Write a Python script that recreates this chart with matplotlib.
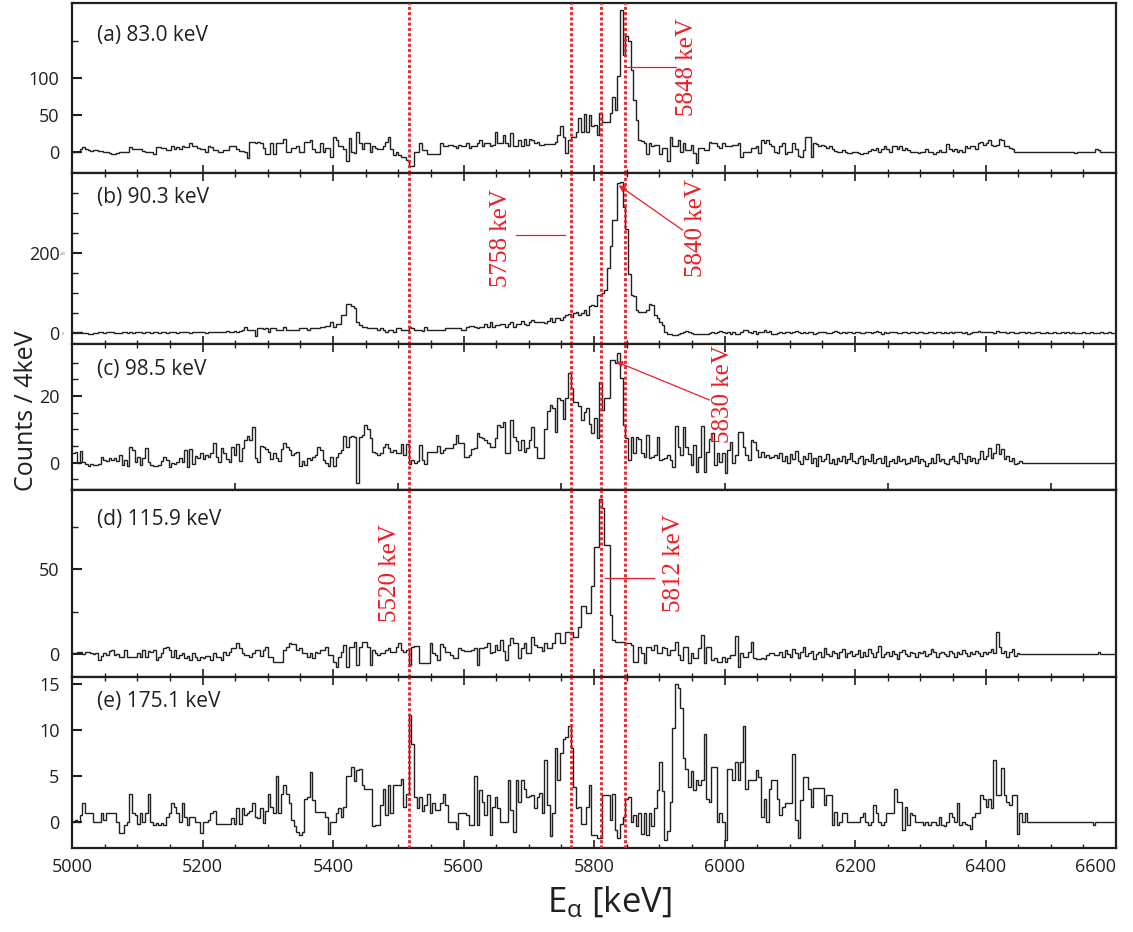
import numpy as np
import matplotlib
matplotlib.use('Agg')
import matplotlib.pyplot as plt
from matplotlib.ticker import MultipleLocator, FixedLocator, NullLocator

plt.rcParams['font.family'] = ['Open Sans', 'DejaVu Sans']
plt.rcParams['mathtext.fontset'] = 'custom'
plt.rcParams['mathtext.rm'] = 'Open Sans'
plt.rcParams['mathtext.it'] = 'Open Sans'

# ---------------- data ----------------
E_MIN, E_MAX, BIN = 5000, 6600, 4

counts_a = [
    0, 0, 0, 4, 6, 3, 2, 1, 2, 2, 1, 1, 0, 0, -2, -3, -3, -2, 0, 0, 0, 0, 6, 4, 4,
    4, 4, 1, 0, 0, -1, -3, 6, 6, 5, 5, 2, 2, 7, 4, 6, 3, 8, 6, 6, 12, 7, 7, 5, 4,
    3, 0, 7, 6, 2, 2, 0, 0, 2, 2, 7, 7, 7, 3, 1, 1, 0, -9, 13, 13, 12, 13, 12, 4.5, -3,
    -3, 11, -3, 12, 11, 12, 17, 0, -1, 4.5, 4.5, 7, 0, 0, 13, 13, 16, 3, 0, 0, 11, -1, 4.5, 4.5, -8,
    20, 16, 7, 7, 3, -13, 18, 0, -2, 26, 11, 3, 11, 11, 0, 7, 4.5, 3, 3, 7, 13, 20, 3, -4.5, 0,
    -4.5, -7, -7, -12, -19, -19, 0, 0, 12, 2, 2, -3, -3, -3, -3, -3, 11, 7, 7, 9, 9, 7, 4.5, 9, 7,
    7, 11, 4.5, 7, 7, 11, 16, 7, 12, 12, 7, 9, 27, 11, 11, 22, 11, 7, 25, 7, 7, 16, 7, 17, 9,
    17, 16, 11, 13.5, 9, 9, 10, 10, 10, 10, 13.5, 22, 35, 20, -1.4, 16, 20, 20, 27, 45, 27, 51, 27, 50, 34,
    36, 22, 52, 40, 40, 40, 52, 74, 56, 102, 191, 131, 156, 150, 110, 70, 43, 16, 14, 11, -3, 11, 7, 9, 9,
    -3, 4.5, 4.5, -13, 20, 7, 7, 16, 0, 11, 2, 2, 9, -2, -16, 4.5, 4.5, 2, 2, 13.5, 11, 11, 7, 4.5, 11,
    7, 7, 8, 9, 9, 12, -7, 0, 0, 0, 4.5, 4.5, 7, -2, 16, 11, 16, 10, 7.7, 0, -2, 7, 11, -3, 0,
    0, 11, 3, -6, -7, 2, 20, 20, -7, 11, 10, 7, 9, 7, 4.5, 7, 3, 1, 0, 0, 2, 0, -2, -2, 0,
    -1, -2, -3, -2, -2, 1, 3, 2, 4.5, 0, 3, 7, 3, 0, 7, 7.7, 3, 7.7, 2, 4.5, 2, -1, 0, 0, -2,
    -1, 0, 3, 0, -1, -3, 0, 2, 0, 0, 10, 3, 1, 3, 0, 2, 0, 7, 4.5, 7.7, 7.7, 3, 11, 13.5, 9,
    11, 16, 9, 7, 9, 17, 16, 7, 7, 4.5, 3, 0, -1, 0, -1, -1, 0, 0, 0, 0, 0, 0, 0, 0, 0,
    0, 0, 0, 0, 0, 0, -1, 0, 0, -2, 0, 0, 0, 0, 0, 0, 0, 3, 2, 0, 0, 0, 0, 0, 0,
]

counts_b = [
    1, 0, 2, 1, -1, 0, -2, -2, 0, 0, 1, 1, 0, 1, 2, 1, 0, -1, 0, 2, 1, 0, 1, 0, 2,
    1, 2, 0, 3, 1, 0, 2, 3, 0, 1, 3, 0, 2, 1, 1, 0, 2, 3, 1, 2, 0, 1, 2, 3, 1,
    2, 0, 3, 2, 1, 3, 2, 1, 3, 4, 2, 3, 5, 3, 4, 6, 15, 7, 7, 6, -7, 11, 11, 10, 11,
    3, 11, 11, 8, 8, 8, 15, 8, 7, 8, 8, 8, 13, 13, 13, 7, 11, 13, 13, 13, 15, 15, 17, 17, 27,
    15, 22, 22, 44, 44, 71, 71, 68, 63, 27, 19, 15, 15, 13, 13, 13, 13, 7, 11, 8, 2.5, 7, 7, 2.5, 11,
    11, 8, 8, 8, 15, 11, 8, 8, 8, 5, 15, 7, 8, 8, 8, 8, 8, 8, 11, 11, 11, 11, 11, 11, 8,
    8, 15, 17, 17, 15, 11, 15, 15, 23, 15, 27, 15, 19, 19, 23, 22, 15, 23, 27, 15, 23, 22, 30, 23, 19,
    27, 31, 27, 27, 27, 27, 25, 30, 36, 27, 36, 36, 33, 40, 44, 48, 40, 50, 52, 44, 50, 57, 44, 67, 69,
    67, 94, 94, 100, 108, 163, 217, 283, 283, 375, 377, 315, 261, 148, 94, 92, 57, 52, 52, 52, 57, 72, 69, 44, 36,
    27, 19, 2.5, -2, -3, -6, -6, -3, 0, 2.5, 5, 2.5, 0, -3, -2, -2, -2, -2, -2, 0, 2.5, 0, 2.5, 4, 2.5,
    0, 2.5, -2, 2.5, -2, -2, 2.5, 8, 7, 2.5, 0, 5, -2, 2.5, 2.5, 7, 2.5, 5, -2, -3, 0, 2, -1, 1, 3,
    0, 2, 4, 1, -1, 2, 0, 3, 1, -2, 0, 2, 1, 3, 0, -1, 2, 4, 1, 0, 2, -1, 1, 3, 0,
    1, 2, -1, 0, 3, 1, 0, 2, 4, 1, -2, 1, 0, 2, 1, 3, 0, -1, 1, 2, 0, 3, 1, 0, 2,
    1, -1, 0, 2, 1, 0, 3, 2, 0, 1, -1, 2, 0, 1, 3, 1, 0, 2, -2, 0, 1, 2, 4, 2, 1,
    3, 1, 2, 0, 4, 2, 1, 3, 0, 2, 1, -1, 0, 2, 1, 0, 1, -1, 0, 1, 2, 0, -1, 1, 0,
    0, 1, 0, -1, 1, 0, 2, 0, 1, 0, -1, 0, 1, 0, 0, 1, 0, -1, 0, 1, 0, 0, 1, 0, 0,
]

counts_c = [
    3, 3.3, 0, 3.4, 0.3, -0.4, -1, -0.4, -0.7, -0.7, -0.4, 1.8, 0.8, 0.6, 1.3, 0.8, 1.3, 0.6, 2.3, -0.7, 0.8, -1, 4.6, 3.8, 0.3,
    1.8, -0.7, 1.3, 4.3, 0.3, -0.7, -1, -1, -0.7, 0.6, 1.8, 0.8, -1.2, -0.2, -0.4, 0.3, 1.3, 0.3, 3.8, -1.2, 4, -0.4, 2, 1.3, 2.8,
    1, 2.3, 1.6, 2.8, 6, 1.8, 0.3, 4.3, 2.8, 1, 0.3, 4.8, 2.3, 5.6, 0.6, 4.3, 6.8, 8, 6.8, 10.6, 1.3, 0.3, 5, 4.8, 4.2,
    3.3, 1, 2.8, 1.3, 0.6, 4, 5.8, 4.8, 3.8, 2.3, 2.8, 3.3, -1, 0.6, -0.7, 1.3, 0.8, 1.6, 2.3, 4.8, 3.8, 0.8, -0.2, -1, 1.8,
    -1, 1.8, 2.8, 3.8, 8, 4.8, 7.8, 8, 7.8, -6, 7.8, 8.3, 11.3, 10, 7.3, 3.3, 2.8, 2.3, 2.8, 4.8, 5.6, 4.3, 3.3, 3.8, 3,
    2.8, 5.6, 2.3, 5.6, -0.4, 0.8, 0, 0.6, 5.3, 0.8, -0.4, 3.3, 3.3, 3.3, 3.3, 5, 2.8, 3.8, 4.3, 4.3, 4.3, 5.6, 8.3, 5.8, 5.8,
    1.8, 1.8, 2.3, 4, 4.3, 9, 7.8, 7.3, 6.8, 5.8, 4.8, 4.8, 7.3, 11.3, 10.6, 12.3, 2.8, 2.8, 12.8, 7.8, 6.6, 3.8, 6.8, 3.3, 4.3,
    6.8, 10.8, 4.6, 1.3, 1.3, 1.3, 10, 15.6, 17.3, 16.3, 9.3, 19.3, 18.8, 13, 19.3, 26.8, 22.3, 18.3, 18.3, 17, 12.8, 15.3, 16.3, 11.6, 8.8,
    13.3, 7.3, 24.3, 15.8, 19.3, 19.3, 30.8, 30.8, 29.8, 32.8, 25.3, 11.3, 7.3, 0.8, 7.8, 2.8, 7.8, 7, 2.8, 1.8, 8.3, 1.3, 1.8, 2.3, 7.8,
    0.8, 1, 1.3, 2.3, 0.8, -1.2, 11, 4.8, 2.3, 10.6, 4.8, 2.6, -0.7, 5.3, -2.7, 1.8, 11, -2.7, 3.3, 7, 9, -0.7, 2.8, 0.3, 2.8,
    -3.2, 3.8, 6.3, -0.2, 2.3, 9.3, 9.3, 4.8, 2.3, 0.8, 6.8, 6.3, 3.8, 1.8, 3.3, 1.8, 2.3, 1.3, 1.8, 2.3, 1.5, 3, 0.5, 2, 0,
    2.5, 1, 3.5, 0.5, -0.5, 2, 1, 3, 0, 1.5, -1, 2, 0.5, 1, 2.5, 0, 1, -0.5, 1.5, 0.5, 2, 0, 1, 3, 0.5,
    0, 1.5, 2, -0.5, 1, 0.5, 2.5, 0, 1, 1.5, 0, 2, -1, 0.5, 1, 0, 2, 0.5, 1, -0.5, 0, 1.5, 0.5, 2, 0,
    1, 0.5, -1, 0, 1.5, 0, 2.5, 0.5, 1, 0, -0.5, 1, 2, 0.5, 0, 3, 1, 0, 2, 0.5, 1.5, 0, 1, 3.5, 1,
    2, 4.5, 1.5, 3, 5.5, 2.5, 4, 1, 2, 0.5, 1.5, -0.5, 0, 0.5, 0, 0, 0, 0, 0, 0, 0, 0, 0, 0, 0,
    0, 0, 0, 0, 0, 0, 0, 0, 0, 0, 0, 0, 0, 0, 0, 0, 0, 0, 0, 0, 0, 0, 0, 0, 0,
]

counts_d = [
    0.4, 0.4, 1.4, 1.4, 0, 1.4, 1.4, 0.4, -0.2, 0.8, -3.5, -1.2, 0.4, -0.6, 2, 2.4, -0.6, 0, -1.6, -1.6, 2.4, -1.6, -1.6, -1.6, -1.6,
    0.8, -1.6, 2.4, -1.6, 2, 1.4, 2.4, -3.5, -1.6, 0.4, 3.3, 4.3, 2.4, -1.6, 2.4, -2.5, -0.6, 0.4, -2.5, -1.2, -3.5, 0.4, -1.6, -3.5, -1.6,
    -2.5, -1.2, -1.2, -3.5, 0.4, -1.6, -1.6, -3.5, 1.4, -0.6, 1.4, 3.3, 3.3, 6.3, 3.3, 0.4, -0.6, -0.6, -1.6, 0.4, 2.4, 2.4, -1.2, 2.4, 4.3,
    -1.6, -1.6, -4.5, -4.5, -4.5, -4.5, 2.4, 4.3, 6.3, 5.9, 5.9, 2.4, 3.3, 0.4, 0.4, -1.6, 0.4, -2.5, 1.4, 0.4, 2.4, 2.4, 4.3, -0.6, -0.6,
    -4.5, -7.5, -1.6, 1, 5.3, -7.5, 4.3, 4.3, 7.3, -6.5, 4.3, 7.3, 7.3, 4.3, -6.5, 2.4, 0.4, -0.6, 0.4, 0.4, 2.4, 3.3, 1.4, 1.4, 4.3,
    6.3, 2.4, 1.4, 2.4, -6.5, 4.3, 4.5, 4.7, -5.5, -5.5, -5.5, -5.5, 6.3, 0.4, -0.5, -3.5, 5.9, 4.3, 1.4, 1.4, -0.6, -2.5, -2.5, 3.3, 2.4,
    2, 2, 2, 2.4, 3.3, -6.5, 3.3, 3.3, 4.3, 6.3, 0.4, 1, 5.3, 2.4, 8.2, 2, -3.5, 5.3, 9.2, 6.3, 6.3, -2.5, 3.3, 6.3, 0.4,
    0.4, 10.2, 5.3, 4.3, 4.3, 2, 6.3, 3.3, 3.3, 6.3, 12.2, 12.2, 6.3, 6.3, 13, 13, 13, 10, 10, 16, 28, 28, 24, 24, 40,
    63, 63, 91, 86, 64, 64, 23, 8, 7, 7, 7, 7, 6.3, 6.3, 5.3, -4.5, -4.5, 4.3, 0.4, -5.5, 4.3, 4.3, 2.4, 5.3, 0.4,
    0.4, 4.3, 3.3, -0.6, 2.4, 2.4, 7.3, -0.6, -3.5, 4.3, 4.3, -5.1, 0.4, -2.5, -2.5, 3.3, 11.2, -5.1, 4.3, 4.3, -3.5, -2.5, -4.5, -4.5, -1.6,
    -4.5, -2.5, -0.6, -0.6, 10.6, -7.5, 0.4, -1.6, -1.6, 1.4, 7.3, -2.5, -3.1, -3.1, -2.5, -3.1, -0.6, 0.4, 0.4, -0.6, -0.6, 1, -2, 2.5, 0,
    -1.5, 3, 0.5, -2.5, 1, 4, -1, 0.5, 2, -3, 0, 1.5, -2, 3.5, 0, -1, 2, 0.5, -2.5, 1, 3, -1.5, 0.5, 2, -1,
    0, 2.5, -2, 1, -1, 3, 0.5, -1.5, 1, 4.5, -2, 0, 1.5, -1, 2, 0, -3, 1, 2.5, 0, -1, 1.5, 0.5, -2, 1,
    0.5, 2, -1, 0, 3, 1, -2, 0.5, 1.5, 0, -1, 2, 0.5, -1.5, 1, 0, 2.5, 0.5, -1, 1, 0, 2, 0.5, -1, 1.5,
    0, 1, 3, 0.5, 13, 4, 0.5, 2, -1.5, 1, 3, -1, 0.5, 0, 0, 0, 0, 0, 0, 0, 0, 0, 0, 0, 0,
    0, 0, 0, 0, 0, 0, 0, 0, 0, 0, 0, 0, 0, 0, 0, 0, 0, 0, 1, 0, 0, 0, 0, 0, 0,
]

counts_e = [
    0, 0.2, 0, 0.7, 2, 1, 1, 1, 0, 0, 0, 1, 0.2, 1, 1, 1, 1, 0, -1.2, -1.2, -0.4, 0, 3, 1, 0.7,
    -0.3, 1, 0, 1, 3, 0, -0.4, -0.1, -0.4, -0.1, -0.4, 0.5, 1, 2, 1.6, 1, 0, 2, 0.5, -0.4, 0.5, 0.5, 0, 0, -1.2,
    0, 0, 0.2, 1, 1.2, -0.3, -0.3, -0.3, -0.3, -0.3, -0.3, 0.4, -0.3, 1.5, -0.3, 1.5, 0.7, 1, 1.2, 2, 0.5, 0.4, 1.5, -0.1, 1.2,
    3, 1.6, 1, 5, 1, 3, 4, 3, 2, 0.2, -0.5, -1.1, -1.4, -1.1, 2.5, 2.7, 5.4, 2.4, 1.1, 1.1, 1.1, 1.1, 0.5, -1.3, 0,
    0, 1, 1.5, 0.5, 1.6, 5, 5, 6, 4.4, 5.7, 5.8, 4, 3.6, 3.6, 3.6, -0.5, -0.4, -0.4, 1.8, 3.6, 0.7, 4, 0.9, 4, 4,
    4, 4.7, 1.6, 3, 11.7, 8.5, 2.7, 1.5, 2.7, 1.2, 1.8, 3, 0.9, 2, 1.3, 1.3, 2, 3, 1.8, 0, 0, 0, -0.8, 1, 1,
    1, 0.7, -0.4, -0.4, 5, -0.4, 3.5, 2.2, 0.7, 2.9, -1.5, 1.6, 2.7, 1.5, 0, 0, 0, 4.5, 1.3, -1.1, 4.5, 2.2, 4.5, 3.6, 2.7,
    2.8, 2.9, 1.5, 2.7, 3.1, 0.9, 6.7, 1.8, -1.6, 0.9, 8, 4.5, 7.5, 9, 9.3, 10.5, 8.1, 3.8, 1.5, 1.6, -0.2, -0.2, 1.6, 4, -1.4,
    -1.4, -1.8, -1.8, 2.9, 2.9, 2.9, 0.2, 3, -0.9, -1.8, -0.2, 0.5, 2.5, 2.7, 0, 0.7, -0.5, 0.9, -1.3, 0.9, -1.5, 0.9, -0.5, 1.5, 3.5,
    6.5, 3.3, -2, -1, 2.2, 10.2, 15, 14.6, 12.4, 7, 5.8, 3.8, 5.5, 3.5, 4.5, 4, 4.5, 9.6, 2.5, 2.2, 6, 6, 0, 0.9, 0,
    -2, 5.8, 5.8, 4.5, 6.5, 4.5, 6.5, 10.5, 3.6, 4.5, 4.5, 4.5, 5.7, 4.9, 0.5, 2.5, 0, 3.6, 4.5, 4.5, 2.5, 0.7, 1.6, 2, 2,
    2, 7.4, 0.2, -1.8, 2.4, 4.9, 4.9, 3.6, 1.6, 3.7, 3.7, 3.7, 3.7, 1.8, 2.9, 2.9, -0.4, 1.1, -0.4, 0, 0.9, 0.9, 0, 0, 0,
    0, 0, 0.5, 0.9, 0, -0.4, 0, 1.8, 0.9, 0, -0.4, 0, 0.9, 0.9, 0.9, 3.6, 2.2, 2.2, -0.9, 1.6, -0.4, 0.9, 0.7, 0, 0,
    0, -0.4, 0, -0.4, 0, 0, -0.4, 0.5, -0.4, -0.5, 0, 0.9, 0.5, 0, 2, -0.4, 0, -0.2, -0.4, -0.8, 0.5, 0.9, 0.9, 2.9, 2.5,
    1.6, 2.5, 1.5, 6.7, 2.9, 2.9, 5.9, 2.9, 2.2, 1.8, 2.9, 2.9, -1.3, 0.9, 0, 0.9, 0, 0, 0, 0, 0, 0, 0, 0, 0,
    0, 0, 0, 0, 0, 0, 0, 0, 0, 0, 0, 0, 0, 0, 0, 0, -0.4, 0, 0, 0, 0, 0, 0, 0, 0,
]

panel_labels = ['(a) 83.0 keV', '(b) 90.3 keV', '(c) 98.5 keV', '(d) 115.9 keV', '(e) 175.1 keV']
line_energies = [5517, 5764, 5810, 5848]
x_ticks = [5000, 5200, 5400, 5600, 5800, 6000, 6200, 6400, 6600]

# ---------------- layout ----------------
W, H = 1133, 932
fig = plt.figure(figsize=(W / 100, H / 100), dpi=100)
INK = '#231F20'
RED = '#EE1C25'

panel_px = [(3, 173), (173, 344), (344, 490), (490, 677), (677, 848)]
ylims = [(-29, 201), (-28, 400), (-8.2, 35.6), (-13.5, 96.5), (-2.87, 15.8)]
major_y = [[0, 50, 100], [0, 200], [0, 20], [0, 50], [0, 5, 10, 15]]
minor_y = [[150], [50, 100, 150, 250, 300, 350], [-5, 5, 10, 15, 25, 30], [25, 75], []]
label_y = [0.81, 0.854, 0.822, 0.84, 0.854]
top_ticks = [False, True, True, False, True]
bottom_ticks = [True, True, False, True, True]
all_counts = [counts_a, counts_b, counts_c, counts_d, counts_e]

edges = np.arange(E_MIN, E_MAX + BIN, BIN)
axes = []
for i, ((top, bot), counts) in enumerate(zip(panel_px, all_counts)):
    ax = fig.add_axes([72 / W, 1 - bot / H, (1116 - 72) / W, (bot - top) / H])
    vals = np.asarray(counts, dtype=float)
    n = len(edges) - 1
    if len(vals) != n:
        vals = np.concatenate([vals, np.zeros(max(0, n - len(vals)))])[:n]
    ax.stairs(vals, edges, baseline=None, color=INK, lw=1.0)
    ax.set_xlim(E_MIN, E_MAX)
    ax.set_ylim(*ylims[i])
    for e in line_energies:
        ax.axvline(e, color=RED, lw=2.0, linestyle=(0, (1.1, 0.8)), zorder=3)
    ax.xaxis.set_major_locator(FixedLocator(x_ticks))
    ax.xaxis.set_minor_locator(MultipleLocator(50))
    ax.yaxis.set_major_locator(FixedLocator(major_y[i]))
    ax.yaxis.set_minor_locator(FixedLocator(minor_y[i]))
    ax.tick_params(axis='x', which='both', direction='in', top=top_ticks[i],
                   bottom=bottom_ticks[i], labelbottom=(i == 4), colors=INK,
                   labelsize=13, pad=7)
    ax.tick_params(axis='x', which='major', length=6, width=1.2)
    ax.tick_params(axis='x', which='minor', length=3, width=1.0)
    ax.tick_params(axis='y', which='both', direction='in', left=True, right=False,
                   colors=INK, labelsize=13, pad=9)
    ax.tick_params(axis='y', which='major', length=7, width=1.5)
    ax.tick_params(axis='y', which='minor', length=4, width=1.0)
    for sp in ax.spines.values():
        sp.set_linewidth(1.6)
        sp.set_color(INK)
    ax.text(0.024, label_y[i], panel_labels[i], transform=ax.transAxes,
            fontsize=15, color=INK, ha='left', va='center')
    axes.append(ax)

ax_a, ax_b, ax_c, ax_d, ax_e = axes
xt = ax_e.get_xticklabels()
xt[-1].set_horizontalalignment('right')

# panel (c) has its own sparser bottom ticks
sec = ax_c.secondary_xaxis('bottom')
sec.set_xticks(np.arange(5000, 6601, 250))
sec.xaxis.set_minor_locator(NullLocator())
sec.tick_params(direction='in', length=5, width=1.2, labelbottom=False, colors=INK)
sec.spines['bottom'].set_linewidth(1.6)

# ---------------- annotations ----------------
tkw = dict(rotation=90, color=RED, fontsize=18, family=['Liberation Serif', 'DejaVu Serif'],
           ha='center', va='center')
ax_a.text(5942, 114.5, '5848 keV', **tkw)
ax_a.plot([5849, 5925], [114.7, 114.7], color=RED, lw=0.9)

ax_b.text(5657, 237, '5758 keV', **tkw)
ax_b.plot([5681, 5755], [244, 244], color=RED, lw=0.9)
ax_b.text(5956, 262, '5840 keV', **tkw)
ax_b.annotate('', xy=(5838, 369), xytext=(5936, 257),
              arrowprops=dict(arrowstyle='-|>', color=RED, lw=0.9, mutation_scale=9,
                              shrinkA=0, shrinkB=0))

ax_c.text(5997, 20.6, '5830 keV', **tkw)
ax_c.annotate('', xy=(5834, 30.3), xytext=(5977, 18.8),
              arrowprops=dict(arrowstyle='-|>', color=RED, lw=0.9, mutation_scale=9,
                              shrinkA=0, shrinkB=0))

ax_d.text(5487, 47.6, '5520 keV', **tkw)
ax_d.text(5922, 53.5, '5812 keV', **tkw)
ax_d.plot([5817, 5892], [44.9, 44.9], color=RED, lw=0.9)

# tiny stray labels next to panel (b) axis
fig.text(63 / W, 1 - 254 / H, '200', fontsize=2.5, color='#666666', ha='center', va='center')
fig.text(63 / W, 1 - 334 / H, '0', fontsize=2.5, color='#666666', ha='center', va='center')

# axis titles
fig.text(27 / W, 1 - 411 / H, 'Counts / 4keV', rotation=90, fontsize=18, color=INK,
         ha='center', va='center')
fig.text(609 / W, 1 - 903 / H, r'E$_{\mathrm{α}}$ [keV]', fontsize=25, color=INK,
         ha='center', va='center')

fig.savefig('out.png', dpi=100)
